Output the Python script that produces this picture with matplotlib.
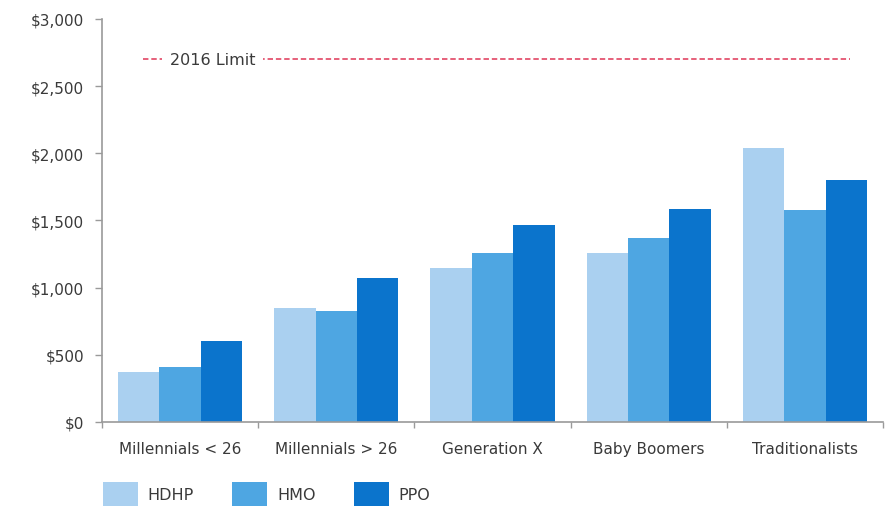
import matplotlib.pyplot as plt
import numpy as np
from matplotlib.ticker import FuncFormatter
from matplotlib.patches import Patch

plt.rcParams['font.family'] = ['DejaVu Sans']

# average contribution by generation and plan type
groups = ['Millennials < 26', 'Millennials > 26', 'Generation X', 'Baby Boomers', 'Traditionalists']
plans = ['HDHP', 'HMO', 'PPO']
hdhp = [370, 846, 1143, 1260, 2039]
hmo = [406, 826, 1255, 1372, 1575]
ppo = [601, 1075, 1466, 1582, 1800]
limit_2016 = 2700

colors = ['#aad0f0', '#4ea6e2', '#0b74cc']
text_col = '#3a3a3a'
axis_col = '#9a9a9a'

fig = plt.figure(figsize=(8.92, 5.10), dpi=100)
ax = fig.add_axes([0.1143, 0.1706, 0.8756, 0.7902])

x = np.arange(len(groups))
w = 0.265
for i, (vals, c) in enumerate(zip([hdhp, hmo, ppo], colors)):
    ax.bar(x + (i - 1) * w, vals, width=w, color=c, linewidth=0)

# 2016 limit line with its label sitting in a gap
ax.hlines(limit_2016, -0.24, 4.29, colors='#e4546f', linestyles=(0, (3, 1.6)), linewidth=1.3, zorder=3)
ax.text(-0.065, limit_2016, '2016 Limit', ha='left', va='center', fontsize=11.5,
        color=text_col, zorder=4,
        bbox=dict(boxstyle='square,pad=0.5', fc='white', ec='none'))

ax.set_xlim(-0.5, 4.5)
ax.set_ylim(0, 3000)
ax.set_yticks(np.arange(0, 3001, 500))
ax.yaxis.set_major_formatter(FuncFormatter(lambda v, p: f'${v:,.0f}'))
ax.set_xticks(np.arange(-0.5, 5, 1))
ax.set_xticklabels([])
ax.set_xticks(x, minor=True)
ax.set_xticklabels(groups, minor=True)
ax.tick_params(axis='x', which='minor', length=0, pad=14, labelsize=11, labelcolor=text_col)
ax.tick_params(axis='x', which='major', length=4, color=axis_col, width=1)
ax.tick_params(axis='y', length=5, color=axis_col, width=1, pad=8, labelsize=11, labelcolor=text_col)

for s in ['top', 'right']:
    ax.spines[s].set_visible(False)
for s in ['left', 'bottom']:
    ax.spines[s].set_color(axis_col)
    ax.spines[s].set_linewidth(1.2)

handles = [Patch(facecolor=c, edgecolor='none') for c in colors]
fig.legend(handles, plans, loc='center left', bbox_to_anchor=(0.1155, 0.029), ncol=3,
           frameon=False, borderpad=0, borderaxespad=0,
           handlelength=2.2, handleheight=1.9, handletextpad=0.6,
           columnspacing=2.4, fontsize=11.5, labelcolor=text_col)

fig.savefig('out.png', dpi=100)
